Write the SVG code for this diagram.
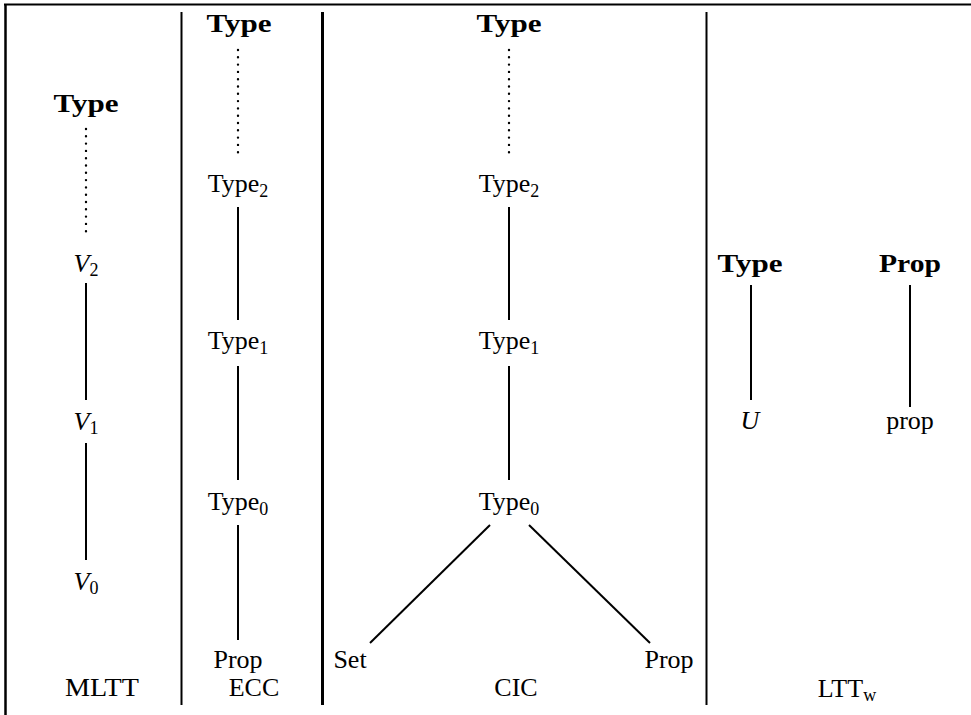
<svg xmlns="http://www.w3.org/2000/svg" width="971" height="715" viewBox="0 0 971 715">
<style>
text{font-family:"Liberation Serif","Times New Roman",serif;font-size:26px;fill:#000;text-anchor:middle}
.b{font-weight:bold;font-size:25px}
.i{font-style:italic}
.sub{font-size:18px;font-style:normal}
.ln{stroke:#000;stroke-width:2;fill:none}
.dot{stroke:#000;stroke-width:2.4;stroke-linecap:round;stroke-dasharray:0 7.3;fill:none}
.sep{stroke:#000;fill:none}
</style>
<rect width="971" height="715" fill="#fff"/>
<g id="frame">
<line class="sep" x1="4" y1="4.5" x2="971" y2="4.5" stroke-width="2"/>
<line class="sep" x1="5.5" y1="4" x2="5.5" y2="715" stroke-width="2.5"/>
<line class="sep" x1="181.5" y1="12" x2="181.5" y2="705" stroke-width="2"/>
<line class="sep" x1="322.5" y1="12" x2="322.5" y2="705" stroke-width="3"/>
<line class="sep" x1="706.5" y1="12" x2="706.5" y2="705" stroke-width="2"/>
</g>
<g id="connectors">
<line class="dot" x1="86" y1="129" x2="86" y2="237"/>
<line class="ln" x1="86" y1="283" x2="86" y2="400"/>
<line class="ln" x1="86" y1="443" x2="86" y2="560"/>
<line class="dot" x1="238" y1="50" x2="238" y2="157"/>
<line class="ln" x1="238" y1="207" x2="238" y2="320"/>
<line class="ln" x1="238" y1="366" x2="238" y2="480"/>
<line class="ln" x1="238" y1="525" x2="238" y2="640"/>
<line class="dot" x1="509" y1="50" x2="509" y2="157"/>
<line class="ln" x1="509" y1="207" x2="509" y2="320"/>
<line class="ln" x1="509" y1="366" x2="509" y2="480"/>
<line class="ln" x1="490" y1="525" x2="370" y2="643"/>
<line class="ln" x1="529" y1="525" x2="650" y2="643"/>
<line class="ln" x1="751" y1="285" x2="751" y2="400" stroke-width="3"/>
<line class="ln" x1="910" y1="285" x2="910" y2="407"/>
</g>
<g id="mltt-type"><text class="b" x="86" y="112" textLength="65" lengthAdjust="spacingAndGlyphs">Type</text></g>
<g id="mltt-v2"><text x="86" y="272"><tspan class="i">V</tspan><tspan class="sub" dy="4">2</tspan></text></g>
<g id="mltt-v1"><text x="86" y="430"><tspan class="i">V</tspan><tspan class="sub" dy="4">1</tspan></text></g>
<g id="mltt-v0"><text x="86" y="590"><tspan class="i">V</tspan><tspan class="sub" dy="4">0</tspan></text></g>
<g id="mltt-label"><text x="102" y="696" textLength="74" lengthAdjust="spacingAndGlyphs">MLTT</text></g>
<g id="ecc-type"><text class="b" x="239" y="32" textLength="65" lengthAdjust="spacingAndGlyphs">Type</text></g>
<g id="ecc-type2"><text x="238" y="192">Type<tspan class="sub" dy="5">2</tspan></text></g>
<g id="ecc-type1"><text x="238" y="349">Type<tspan class="sub" dy="5">1</tspan></text></g>
<g id="ecc-type0"><text x="238" y="510">Type<tspan class="sub" dy="5">0</tspan></text></g>
<g id="ecc-prop"><text x="238" y="668">Prop</text></g>
<g id="ecc-label"><text x="254" y="696">ECC</text></g>
<g id="cic-type"><text class="b" x="509" y="32" textLength="65" lengthAdjust="spacingAndGlyphs">Type</text></g>
<g id="cic-type2"><text x="509" y="192">Type<tspan class="sub" dy="5">2</tspan></text></g>
<g id="cic-type1"><text x="509" y="349">Type<tspan class="sub" dy="5">1</tspan></text></g>
<g id="cic-type0"><text x="509" y="510">Type<tspan class="sub" dy="5">0</tspan></text></g>
<g id="cic-set"><text x="350" y="668">Set</text></g>
<g id="cic-prop"><text x="669" y="668">Prop</text></g>
<g id="cic-label"><text x="516" y="696">CIC</text></g>
<g id="ltt-type"><text class="b" x="750" y="272" textLength="65" lengthAdjust="spacingAndGlyphs">Type</text></g>
<g id="ltt-prop-top"><text class="b" x="910" y="272" textLength="62" lengthAdjust="spacingAndGlyphs">Prop</text></g>
<g id="ltt-u"><text class="i" x="750" y="429">U</text></g>
<g id="ltt-prop"><text x="910" y="429">prop</text></g>
<g id="ltt-label"><text x="847" y="697">LTT<tspan class="sub" dy="4">w</tspan></text></g>
</svg>
